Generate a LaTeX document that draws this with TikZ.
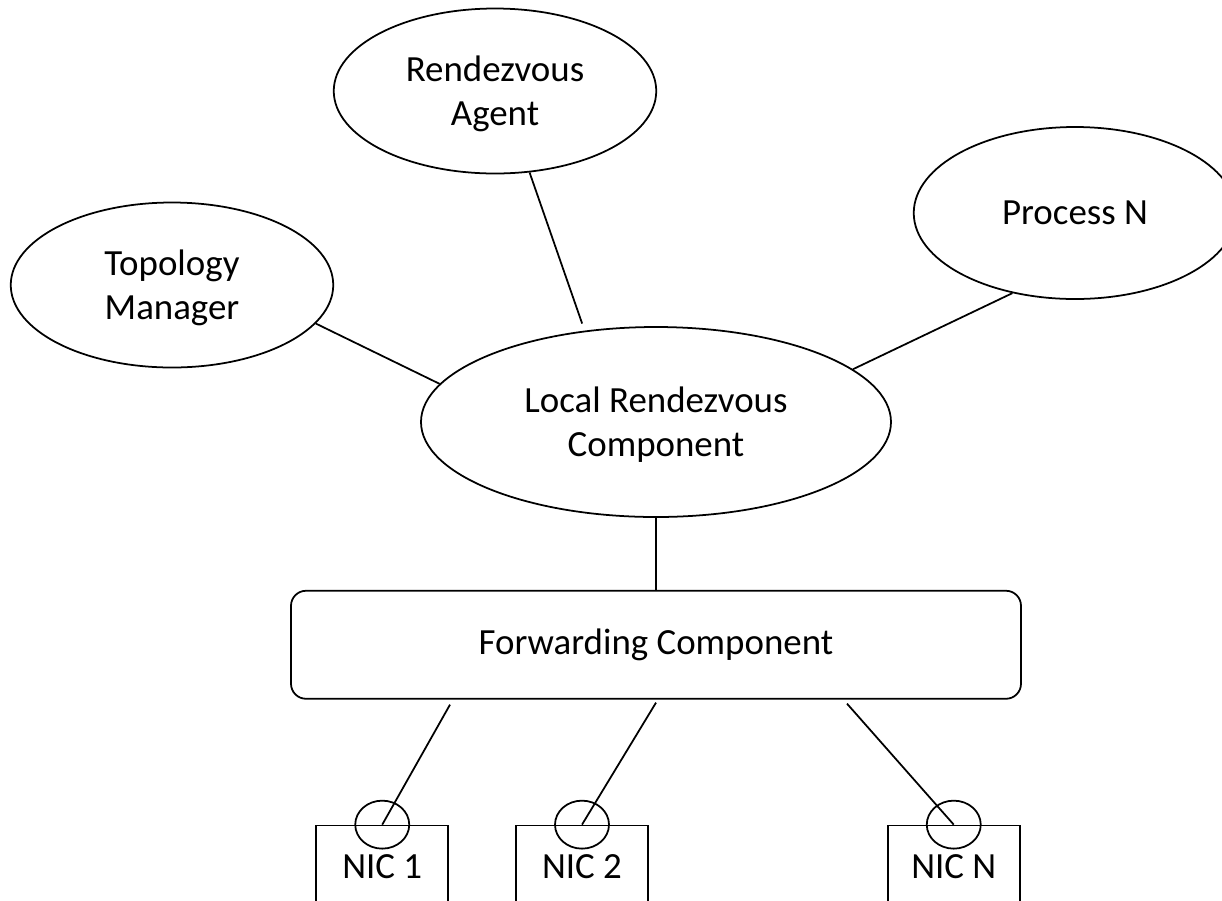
\documentclass[tikz,border=0pt]{standalone}
\usepackage{fontspec}
\setmainfont{Carlito}
\usetikzlibrary{positioning, shapes.geometric}

\begin{document}
\begin{tikzpicture}[
    blob/.style={draw, ellipse, inner sep=0pt, align=center, text depth=0pt,
                 minimum width=6.45cm, minimum height=3.3cm},
    nicbox/.style={draw, minimum width=2.64cm, minimum height=1.66cm, inner sep=0pt},
    port/.style={draw, ellipse, minimum width=1.08cm, minimum height=0.96cm, inner sep=0pt},
    font=\fontsize{21}{25}\selectfont,
    line width=1pt,
    node distance=1cm
]
\useasboundingbox (0,0) rectangle (24.44,-18);
\clip (0,0) rectangle (24.44,-18);

\node[blob, minimum width=9.4cm, minimum height=3.8cm] (lrc) at (13.12,-8.44) {Local Rendezvous\\Component};
\node[blob] (ra) at (9.9,-1.82) {Rendezvous\\Agent};
\node[blob] (tm) at (3.44,-5.7) {Topology\\Manager};
\node[blob, minimum height=3.44cm] (pn) at (21.5,-4.26) {Process N};

\node[draw, rounded corners=0.3cm, minimum width=14.6cm, minimum height=2.16cm, below=1.44cm of lrc] (fwd) {Forwarding Component};

\node[nicbox, below=2.5cm of fwd, xshift=-1.48cm] (nic2) {NIC 2};
\node[nicbox, left=1.32cm of nic2] (nic1) {NIC 1};
\node[nicbox, right=4.76cm of nic2] (nicn) {NIC N};

\node[port] (pt1) at (nic1.north) {};
\node[port] (pt2) at (nic2.north) {};
\node[port] (ptn) at (nicn.north) {};

\draw[shorten >=0.15cm] (ra.-67) -- (lrc.128);
\draw (tm.-15) -- (lrc.170);
\draw (pn.232) -- (lrc.15);
\draw (lrc.south) -- (fwd.north);

\draw ([xshift=-4.12cm, yshift=-0.1cm]fwd.south) -- (pt1.center);
\draw ([yshift=-0.06cm]fwd.south) -- (pt2.center);
\draw ([xshift=3.82cm, yshift=-0.08cm]fwd.south) -- (ptn.center);
\end{tikzpicture}
\end{document}
